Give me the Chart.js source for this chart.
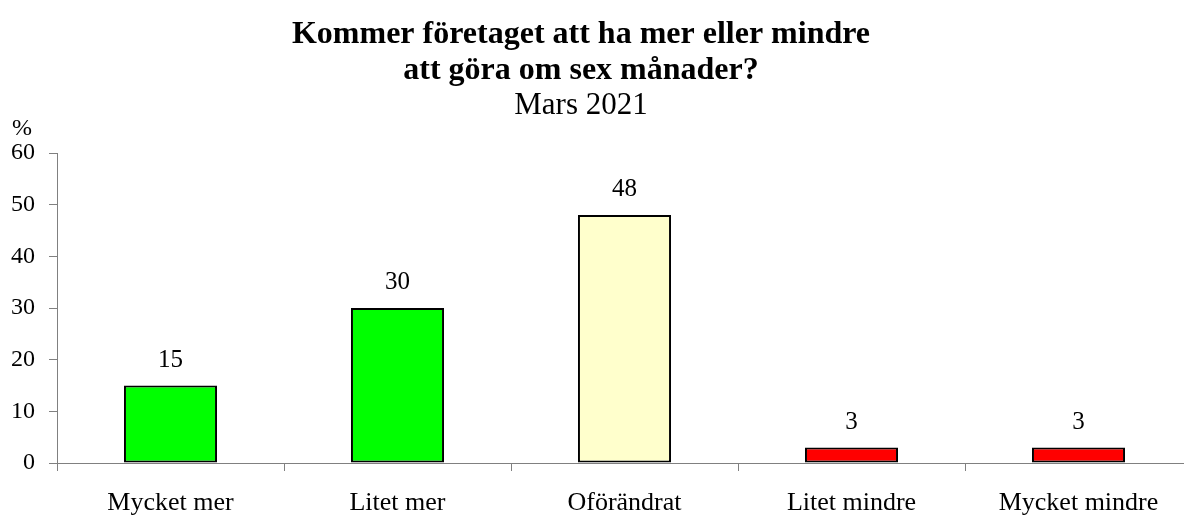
<!DOCTYPE html>
<html lang="sv">
<head>
    <meta charset="UTF-8">
    <title>Kommer företaget att ha mer eller mindre att göra</title>
    <script src="https://cdn.jsdelivr.net/npm/chart.js"></script>
    <style>
        * { margin: 0; padding: 0; box-sizing: border-box; }
        html, body { width: 1184px; height: 516px; overflow: hidden; background: #fff; }
        #wrap { position: absolute; left: 0; top: 0; width: 1192px; height: 516px; }
    </style>
</head>
<body>
    <div id="wrap"><canvas id="chart"></canvas></div>

    <script>
        const titleLines = ['Kommer företaget att ha mer eller mindre', 'att göra om sex månader?'];
        const subtitle = 'Mars 2021';
        const categories = ['Mycket mer', 'Litet mer', 'Oförändrat', 'Litet mindre', 'Mycket mindre'];
        const values = [15, 30, 48, 3, 3];
        const barColors = ['#00ff00', '#00ff00', '#ffffcc', '#ff0000', '#ff0000'];
        const yTicks = [0, 10, 20, 30, 40, 50, 60];

        const serif = "'Liberation Serif', 'Times New Roman', serif";

        // titles, value above each bar and the % sign over the y axis
        const labelsPlugin = {
            id: 'labels',
            afterDatasetsDraw(chart) {
                const ctx = chart.ctx;
                const meta = chart.getDatasetMeta(0);
                ctx.save();
                ctx.fillStyle = '#000';
                ctx.textAlign = 'center';

                ctx.textBaseline = 'middle';
                ctx.font = 'bold 32px ' + serif;
                ctx.fillText(titleLines[0], 581, 35);
                ctx.fillText(titleLines[1], 581, 71);
                ctx.font = '31px ' + serif;
                ctx.fillText(subtitle, 581, 106);

                ctx.textBaseline = 'alphabetic';
                ctx.font = '25px ' + serif;
                meta.data.forEach((bar, i) => {
                    ctx.fillText(values[i], bar.x, bar.y - 19);
                });
                ctx.font = '24px ' + serif;
                ctx.fillText('%', 22, 135);
                ctx.restore();
            }
        };

        new Chart(document.getElementById('chart'), {
            type: 'bar',
            data: {
                labels: categories,
                datasets: [{
                    data: values,
                    backgroundColor: barColors,
                    borderColor: '#000',
                    borderWidth: 2,
                    borderSkipped: false,
                    barPercentage: 0.41,
                    categoryPercentage: 1
                }]
            },
            options: {
                responsive: true,
                maintainAspectRatio: false,
                animation: false,
                layout: { padding: { top: 153, right: 0, left: 0, bottom: 0 } },
                plugins: {
                    legend: { display: false },
                    tooltip: { enabled: false }
                },
                scales: {
                    x: {
                        offset: true,
                        grid: {
                            offset: true,
                            drawOnChartArea: false,
                            color: '#808080',
                            tickLength: 8
                        },
                        border: { color: '#808080', width: 1 },
                        ticks: {
                            color: '#000',
                            font: { family: serif, size: 26 },
                            padding: 17,
                            maxRotation: 0
                        },
                        afterFit(scale) { scale.height = 53; }
                    },
                    y: {
                        min: 0,
                        max: 60,
                        afterBuildTicks(scale) { scale.ticks = yTicks.map(v => ({ value: v })); },
                        grid: {
                            drawOnChartArea: false,
                            color: '#808080',
                            tickLength: 8
                        },
                        border: { color: '#808080', width: 1 },
                        ticks: {
                            color: '#000',
                            font: { family: serif, size: 24 },
                            padding: 14
                        },
                        afterFit(scale) { scale.width = 57; }
                    }
                }
            },
            plugins: [labelsPlugin]
        });
    </script>
</body>
</html>
